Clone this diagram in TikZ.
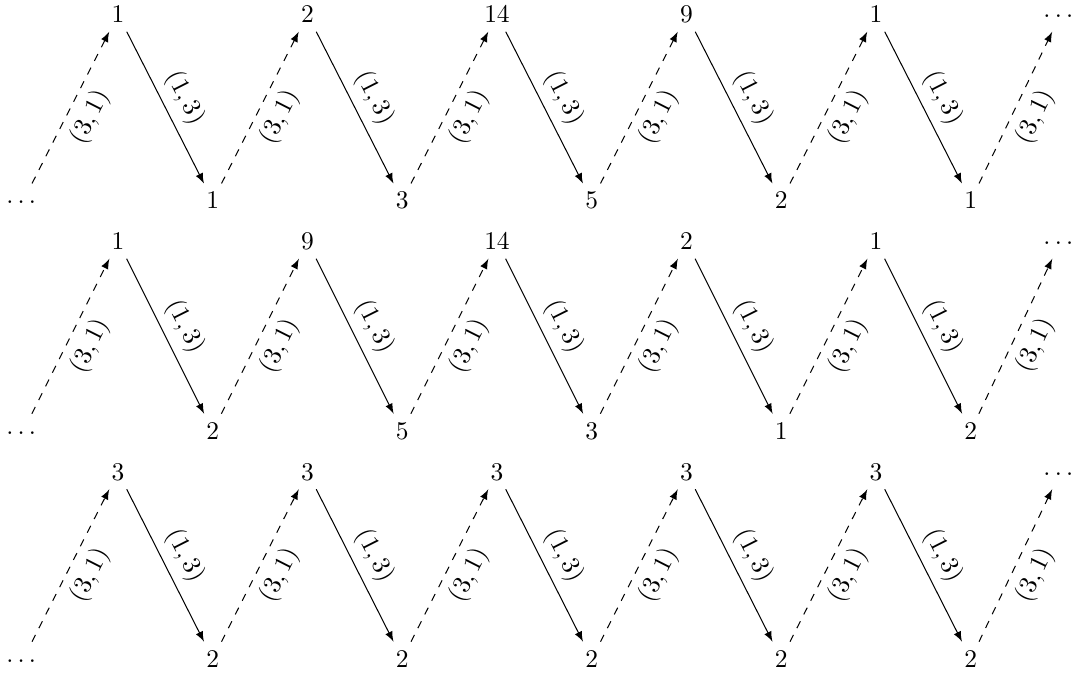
\documentclass[tikz,border=0pt]{standalone}
\usepackage{amsmath,amssymb,amsfonts}
\usepackage{tikz}
\usepackage{xcolor}

\begin{document}
\begin{tikzpicture}[x=1.307cm,y=1cm,
		entry/.style={text height=1.5ex,text depth=0pt},
		upedge/.style={dashed,-latex},
		downedge/.style={-latex},
		lab/.style={midway,sloped}]
			\useasboundingbox (-0.2454,0) rectangle (11.0792,9.297);
			\foreach \k/\l in {1/1,3/2,5/14,7/9,9/1}{
				\node[entry] (a\k) at (\k,9.097) {$\l$};
			}
			\node[entry] (a11) at (10.947,9.097) {$\cdots$};
			\foreach \k/\l in {0/\cdots,2/1,4/3,6/5,8/2,10/1}{
				\node[entry] (a\k) at (\k,6.528) {$\l$};
			}
			\foreach \k/\l in {1/1,3/9,5/14,7/2,9/1}{
				\node[entry] (b\k) at (\k,5.966) {$\l$};
			}
			\node[entry] (b11) at (10.947,5.966) {$\cdots$};
			\foreach \k/\l in {0/\cdots,2/2,4/5,6/3,8/1,10/2}{
				\node[entry] (b\k) at (\k,3.352) {$\l$};
			}
			\foreach \k/\l in {1/3,3/3,5/3,7/3,9/3}{
				\node[entry] (c\k) at (\k,2.786) {$\l$};
			}
			\node[entry] (c11) at (10.947,2.786) {$\cdots$};
			\foreach \k/\l in {0/\cdots,2/2,4/2,6/2,8/2,10/2}{
				\node[entry] (c\k) at (\k,0.207) {$\l$};
			}
			\foreach \r in {a,b,c}{
				\foreach \k in {0,2,...,10}{
					\pgfmathtruncatemacro\j{\k+1}
					\draw[upedge] (\r\k) -- node[lab,below] {$(3,1)$} (\r\j);
				}
				\foreach \k in {1,3,...,9}{
					\pgfmathtruncatemacro\j{\k+1}
					\draw[downedge] (\r\k) -- node[lab,above] {$(1,3)$} (\r\j);
				}
			}
		\end{tikzpicture}
\end{document}
